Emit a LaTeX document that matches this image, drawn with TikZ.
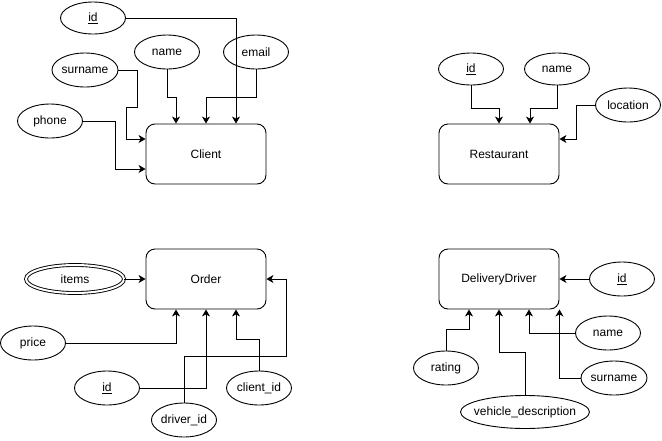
\documentclass[tikz,border=0pt]{standalone}
\usepackage{fontspec}
\setmainfont{Liberation Sans}
\usetikzlibrary{arrows.meta, shapes.geometric, positioning}
\begin{document}
\begin{tikzpicture}[x=1pt, y=-1pt, font=\fontsize{12}{14}\selectfont,
  ent/.style={draw, line width=0.9pt, rounded corners=9pt, minimum width=120pt, minimum height=60pt},
  att/.style={draw, line width=0.9pt, ellipse, inner sep=0pt, minimum width=65pt, minimum height=34pt},
  lnk/.style={draw, line width=0.9pt, -{Stealth[length=7pt, width=8pt, inset=2pt]}}]
      \useasboundingbox (0,0) rectangle (662,440);

      \node[ent] (cl) at (206,154) {Client};
      \node[ent] (rs) at (499,154) {Restaurant};
      \node[ent] (od) at (206,279) {Order};
      \node[ent] (dd) at (499,279) {DeliveryDriver};

      \node[att, minimum height=32pt] (cid) at (93,18) {\underline{id}};
      \node[att] (cname) at (167,52) {name};
      \node[att] (cemail) at (256,52) {email};
      \node[att] (csurname) at (85,70) {surname};
      \node[att] (cphone) at (50,121) {phone};
      \draw[lnk] (cid.east) -| ([xshift=30pt]cl.north);
      \draw[lnk] (cname.south) |- (176,97) -- ([xshift=-30pt]cl.north);
      \draw[lnk] (cemail.south) |- (206,97) -- (cl.north);
      \draw[lnk] (csurname.east) -| (137,107) -| (126,139) -- ([yshift=15pt]cl.west);
      \draw[lnk] (cphone.east) -| (115,169) -- ([yshift=-15pt]cl.west);

      \node[att, minimum height=32pt] (rid) at (471,69) {\underline{id}};
      \node[att, minimum height=32pt] (rname) at (557,69) {name};
      \node[att] (rloc) at (628,105) {location};
      \draw[lnk] (rid.south) |- (499,108) -- (rs.north);
      \draw[lnk] (rname.south) |- (530,108) -- ([xshift=31pt]rs.north);
      \draw[lnk] (rloc.west) -| (576,139) -- ([yshift=15pt]rs.east);

      \node[att, double, double distance=2pt, minimum width=98pt, minimum height=28pt] (oitems) at (75,279) {items};
      \node[att] (oprice) at (33,343) {price};
      \node[att] (oid) at (107,388) {\underline{id}};
      \node[att] (odriver) at (184,420) {driver\_id};
      \node[att] (oclient) at (259,388) {client\_id};
      \draw[lnk] (oitems.east) -- (od.west);
      \draw[lnk] (oprice.east) -| ([xshift=-30pt]od.south);
      \draw[lnk] (oid.east) -| (od.south);
      \draw[lnk] (oclient.north) |- (236,339) -- ([xshift=30pt]od.south);
      \draw[lnk] (odriver.north) |- (286,356) |- (od.east);

      \node[att] (did) at (622,279) {\underline{id}};
      \node[att] (dname) at (608,333) {name};
      \node[att] (dsurname) at (614,378) {surname};
      \node[att] (drating) at (446,368) {rating};
      \node[att, inner xsep=-9.5pt, minimum width=129pt, minimum height=33pt] (dvehicle) at (525,412) {vehicle\_description};
      \draw[lnk] (did.west) -- (dd.east);
      \draw[lnk] (dname.west) -| ([xshift=30pt]dd.south);
      \draw[lnk] (dsurname.west) -| (dd.south east);
      \draw[lnk] (drating.north) |- (469,329) -- ([xshift=-30pt]dd.south);
      \draw[lnk] (dvehicle.north) |- (499,352) -- (dd.south);
    \end{tikzpicture}
\end{document}
